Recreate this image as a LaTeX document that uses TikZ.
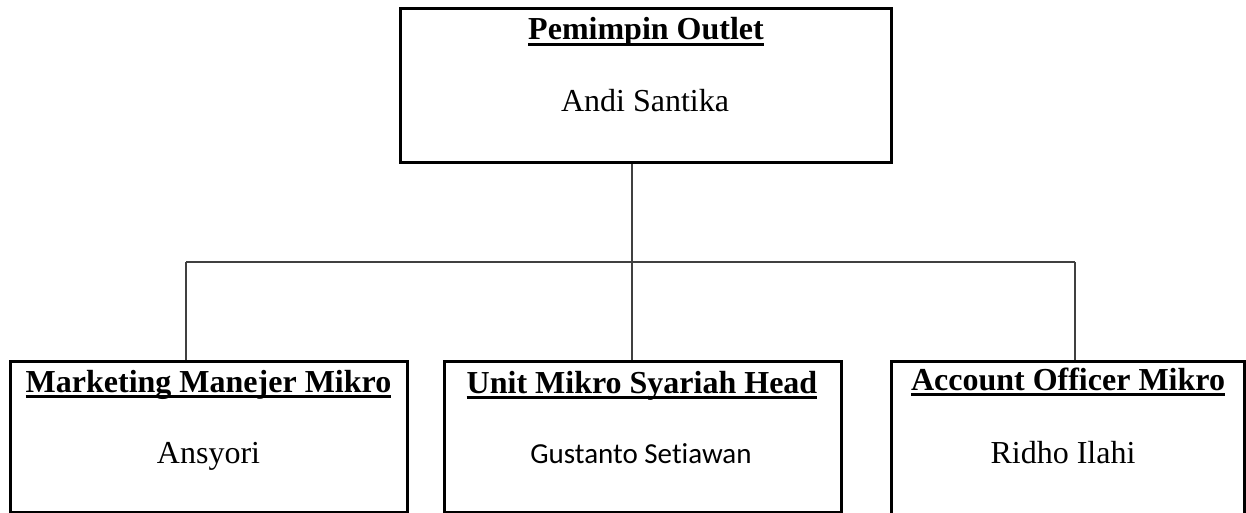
\documentclass[tikz,border=0pt]{standalone}
\usepackage{fontspec}
\setmainfont{Liberation Serif}
\newfontfamily\calibrifont[Ligatures=NoCommon]{Carlito}
\begin{document}
\begin{tikzpicture}[x=1pt,y=-1pt,
  orgbox/.style={draw=black,line width=3pt,inner sep=0pt,minimum width=#1},
  ttl/.style={anchor=base,inner sep=0pt,font=\fontsize{32}{38}\selectfont\bfseries},
  nm/.style={anchor=base,inner sep=0pt,font=\fontsize{32}{38}\selectfont},
  nmc/.style={anchor=base,inner sep=0pt,font=\fontsize{29}{35}\selectfont\calibrifont},
  conn/.style={draw=black!75,line width=1.3pt},
  ul/.style={line width=3pt}]
\useasboundingbox (0,0) rectangle (1246,513);
% boxes
\node[orgbox=491pt,minimum height=154pt] (top) at (645.5,86) {};
\node[orgbox=397pt,minimum height=151pt] (lbox) at (208.5,436.5) {};
\node[orgbox=397pt,minimum height=151pt] (mbox) at (642.5,436.5) {};
\node[orgbox=353pt,minimum height=175pt] (rbox) at (1067.5,448.5) {};
% texts
\node[ttl] (t0) at (646,40) {Pemimpin Outlet};
\node[nm] (n0) at (645,112) {Andi Santika};
\node[ttl] (t1) at (208.5,392) {Marketing Manejer Mikro};
\node[nm] (n1) at (208.5,463) {Ansyori};
\node[ttl] (t2) at (642,393) {Unit Mikro Syariah Head};
\node[nmc] (n2) at (641,463) {Gustanto Setiawan};
\node[ttl] (t3) at (1068,390) {Account Officer Mikro};
\node[nm] (n3) at (1063,463) {Ridho Ilahi};
% underlines
\foreach \t in {t0,t1,t2,t3}{
  \draw[ul] ([yshift=-4.5pt]\t.base west) -- ([yshift=-4.5pt]\t.base east);
}
% connectors
\coordinate (jl) at (186,262);
\coordinate (jm) at (632,262);
\coordinate (jr) at (1075,262);
\draw[conn] (top.south -| jm) -- (jm);
\draw[conn] (jl) -- (jr);
\draw[conn] (jl) -- (lbox.north -| jl);
\draw[conn] (jm) -- (mbox.north -| jm);
\draw[conn] (jr) -- (rbox.north -| jr);
\end{tikzpicture}
\end{document}
